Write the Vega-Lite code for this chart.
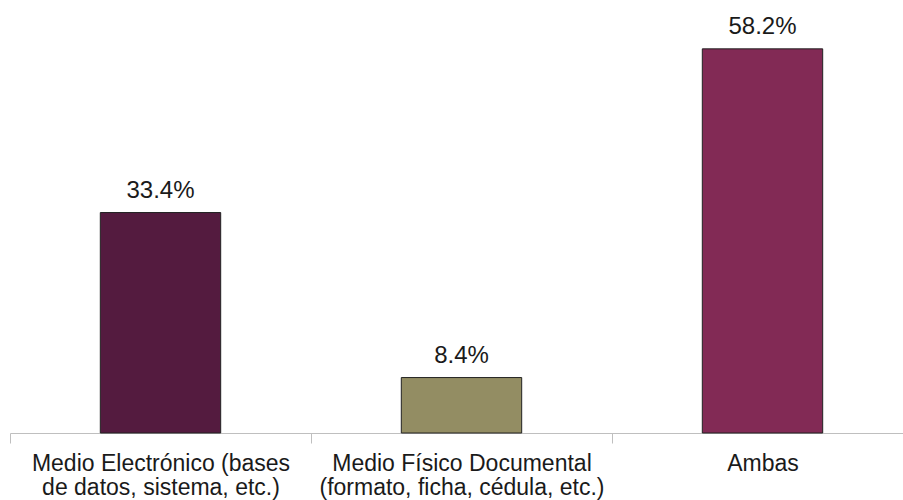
{
  "$schema": "https://vega.github.io/schema/vega-lite/v6.json",
  "width": 903,
  "height": 433,
  "autosize": {"type": "none"},
  "padding": {"left": 10, "top": 0, "right": 0, "bottom": 67},
  "background": "white",
  "config": {"view": {"stroke": null}, "font": "Liberation Sans"},
  "data": {"values": [
    {"cat": "Medio Electrónico (bases|de datos, sistema, etc.)", "v": 33.4, "label": "33.4%", "color": "e"},
    {"cat": "Medio Físico Documental|(formato, ficha, cédula, etc.)", "v": 8.4, "label": "8.4%", "color": "f"},
    {"cat": "Ambas", "v": 58.2, "label": "58.2%", "color": "a"}
  ]},
  "encoding": {
    "x": {
      "field": "cat", "type": "nominal", "sort": null,
      "scale": {"paddingInner": 0, "paddingOuter": 0},
      "axis": {
        "title": null, "labelAngle": 0, "labelExpr": "split(datum.label, '|')",
        "labelFontSize": 23, "labelColor": "#1a1a1a", "labelFont": "Liberation Sans",
        "tickBand": "extent", "domainColor": "#bfbfbf", "tickColor": "#bfbfbf",
        "tickSize": 10, "labelPadding": 9, "labelLineHeight": 24, "labelLimit": 400
      }
    },
    "y": {
      "field": "v", "type": "quantitative",
      "scale": {"domain": [0, 65.6], "nice": false},
      "axis": null
    }
  },
  "layer": [
    {
      "mark": {"type": "bar", "width": {"band": 0.4}, "stroke": "#222222", "strokeWidth": 1},
      "encoding": {
        "color": {
          "field": "color", "type": "nominal", "legend": null,
          "scale": {"domain": ["e", "f", "a"], "range": ["#541b3f", "#938d63", "#822a55"]}
        }
      }
    },
    {
      "mark": {"type": "text", "dy": -15, "baseline": "alphabetic", "fontSize": 24, "color": "#1a1a1a", "font": "Liberation Sans"},
      "encoding": {"text": {"field": "label"}}
    }
  ]
}
